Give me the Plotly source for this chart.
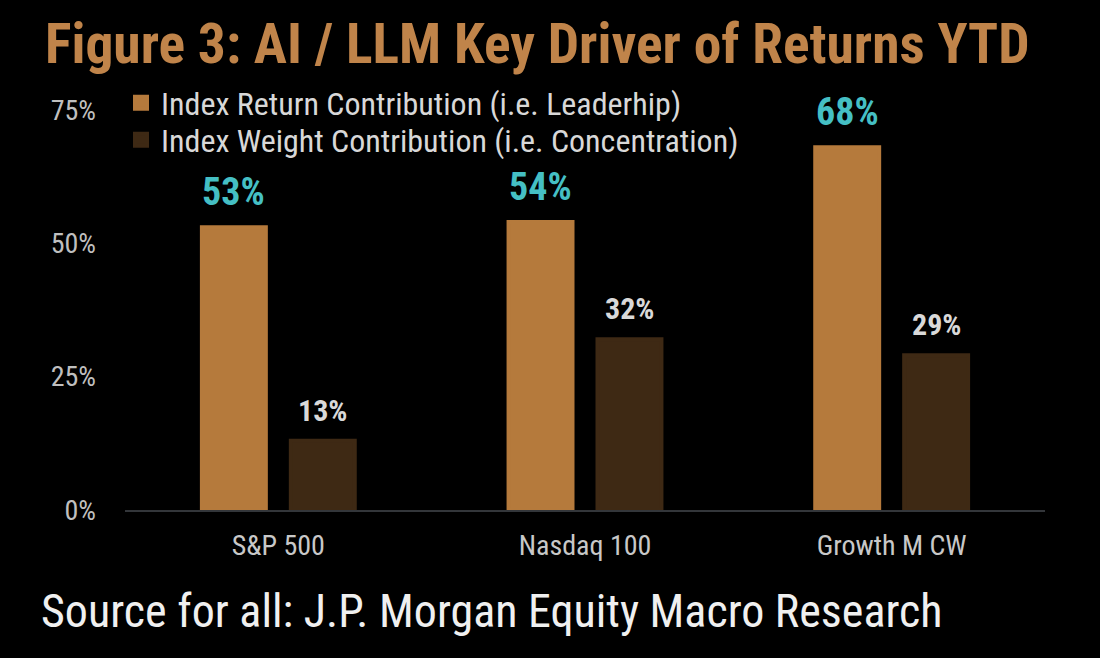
import plotly.graph_objects as go

categories = ["S&P 500", "Nasdaq 100", "Growth M CW"]
return_contrib = [53, 54, 68]
weight_contrib = [13, 32, 29]
series_names = ["Index Return Contribution (i.e. Leaderhip)",
                "Index Weight Contribution (i.e. Concentration)"]
y_ticks = [0, 25, 50, 75]
y_tick_text = ["0%", "25%", "50%", "75%"]
title_text = "Figure 3: AI / LLM Key Driver of Returns YTD"
source_text = "Source for all: J.P. Morgan Equity Macro Research"

FONT = "Roboto Condensed, Liberation Sans, sans-serif"
ORANGE = "#B57A3C"
BROWN = "#3E2914"
CYAN = "#45BFC4"

BARGAP = 0.42

fig = go.Figure()
fig.add_trace(go.Bar(x=categories, y=return_contrib, name=series_names[0], legend="legend",
                     marker=dict(color=ORANGE, line=dict(width=4, color=ORANGE))))
fig.add_trace(go.Bar(x=categories, y=weight_contrib, name=series_names[1], legend="legend2",
                     marker=dict(color=BROWN, line=dict(width=4, color=BROWN))))

off = (1 - BARGAP) / 4
for i, v in enumerate(return_contrib):
    fig.add_annotation(x=i - off, y=v, text=f"<b>{v}%</b>", showarrow=False,
                       xref="x", yref="y", yanchor="bottom", yshift=11,
                       font=dict(family=FONT, size=38, color=CYAN))
for i, v in enumerate(weight_contrib):
    fig.add_annotation(x=i + off, y=v, text=f"<b>{v}%</b>", showarrow=False,
                       xref="x", yref="y", yanchor="bottom", yshift=11,
                       font=dict(family=FONT, size=30, color="#D9D9D9"))

fig.add_annotation(text=f"<b>{title_text}</b>", xref="paper", yref="paper",
                   x=(43 - 125) / 920, y=(510 - 45) / 400, xanchor="left", yanchor="middle",
                   showarrow=False, font=dict(family=FONT, size=55.5, color="#C0844A"))
fig.add_annotation(text=source_text, xref="paper", yref="paper",
                   x=(39 - 125) / 920, y=(510 - 611) / 400, xanchor="left", yanchor="middle",
                   showarrow=False, font=dict(family=FONT, size=46, color="#F0F0F0"))

legend_common = dict(xanchor="left", yanchor="middle", bgcolor="rgba(0,0,0,0)",
                     font=dict(family=FONT, size=32, color="#D8D8D8"))

fig.update_layout(
    width=1100, height=658,
    paper_bgcolor="black", plot_bgcolor="black",
    margin=dict(l=125, r=55, t=110, b=148),
    barmode="group", bargap=BARGAP, bargroupgap=0.281,
    font=dict(family=FONT, color="#BFBFBF"),
    showlegend=True,
    legend=dict(x=(121 - 125) / 920, y=(510 - 103) / 400, **legend_common),
    legend2=dict(x=(121 - 125) / 920, y=(510 - 140) / 400, **legend_common),
    xaxis=dict(showline=True, linecolor="#33363A", linewidth=2, showgrid=False,
               ticks="", tickfont=dict(family=FONT, size=28, color="#C8C8C8"),
               ticklabelstandoff=9),
    yaxis=dict(range=[0, 75], tickvals=y_ticks, ticktext=y_tick_text, showgrid=False,
               zeroline=False, showline=False, ticks="",
               tickfont=dict(family=FONT, size=28, color="#BFBFBF"),
               ticklabelstandoff=28),
)

fig.write_html("out.html", config={"displayModeBar": False},
               post_script="document.body.style.margin='0';document.body.style.background='black';")
